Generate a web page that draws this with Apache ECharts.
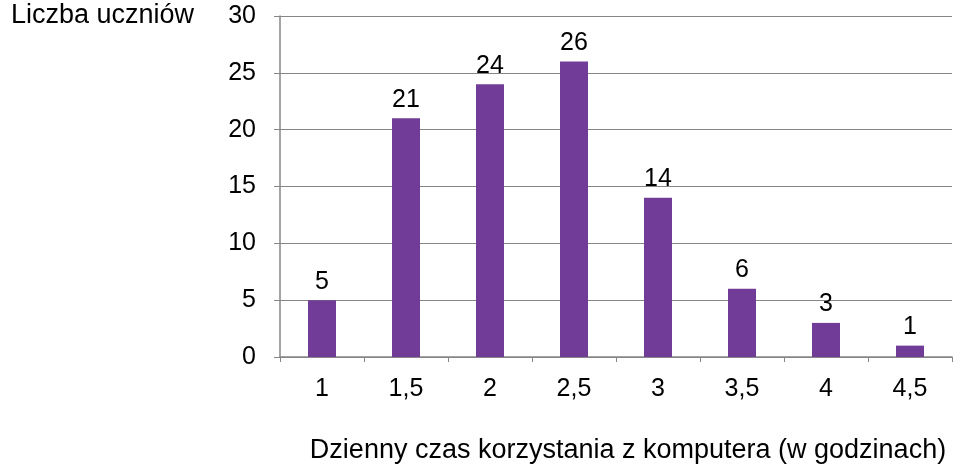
<!DOCTYPE html>
<html>
<head>
<meta charset="utf-8">
<script src="https://cdn.jsdelivr.net/npm/echarts@6/dist/echarts.min.js"></script>
<style>
html, body { margin: 0; padding: 0; background: #fff; }
#main { width: 968px; height: 469px; }
</style>
</head>
<body>
<div id="main"></div>
<script>
// dane z wykresu
const categories = ['1', '1,5', '2', '2,5', '3', '3,5', '4', '4,5'];
const values = [5, 21, 24, 26, 14, 6, 3, 1];
const yTicks = [0, 5, 10, 15, 20, 25, 30];

let chart = echarts.init(document.getElementById('main'));
let font = 'Liberation Sans, Arial, sans-serif';

let option = {
    backgroundColor: 'white',
    animation: false,
    grid: { left: 280, right: 16, top: 16, bottom: 101 },
    xAxis: {
        type: 'category',
        data: categories,
        axisLine: { lineStyle: { color: '#868686', width: 1.5 } },
        axisTick: { show: true, lineStyle: { color: '#868686' } },
        axisLabel: { color: '#000', fontSize: 25, fontFamily: font, margin: 20 },
        name: 'Dzienny czas korzystania z komputera (w godzinach)',
        nameLocation: 'middle',
        nameGap: 80,
        nameTextStyle: { color: '#000', fontSize: 27, fontFamily: font, padding: [0, 0, 0, 24] }
    },
    yAxis: {
        type: 'value',
        min: yTicks[0],
        max: yTicks[yTicks.length - 1],
        interval: 5,
        axisLine: { show: true, lineStyle: { color: '#868686', width: 1.5 } },
        axisTick: { show: true, length: 6, lineStyle: { color: '#868686' } },
        splitLine: { lineStyle: { color: '#868686', width: 1.2 } },
        axisLabel: { color: '#000', fontSize: 25, fontFamily: font, margin: 24 },
        name: 'Liczba uczniów',
        nameLocation: 'end',
        nameGap: 0,
        nameTextStyle: {
            color: '#000', fontSize: 27, fontFamily: font,
            align: 'right', verticalAlign: 'middle', padding: [0, 86, 0, 0]
        }
    },
    series: [{
        type: 'bar',
        data: values,
        barWidth: 28,
        itemStyle: { color: '#713c97' },
        label: {
            show: true, position: 'top', distance: 6,
            color: '#000', fontSize: 25, fontFamily: font
        }
    }]
};
chart.setOption(option);
</script>
</body>
</html>
